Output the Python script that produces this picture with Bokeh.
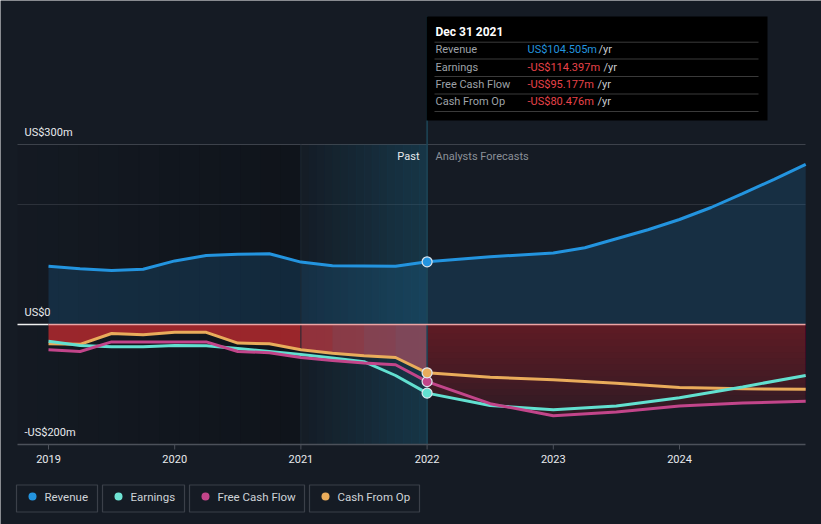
import numpy as np
from bokeh.plotting import figure
from bokeh.models import Range1d
from bokeh.core.properties import value
from bokeh.embed import file_html
from bokeh.resources import INLINE

# ---------------- data (US$ m) ----------------
REV_DATES = [2019.0, 2019.25, 2019.5, 2019.75, 2020.0, 2020.25, 2020.5, 2020.75,
             2021.0, 2021.25, 2021.5, 2021.75, 2022.0,
             2022.5, 2023.0, 2023.25, 2023.5, 2023.75, 2024.0, 2024.25, 2024.5, 2024.75, 2025.0]
REVENUE = [97, 93, 90, 92, 106, 115, 117, 118,
           104, 98, 97.5, 97, 104.505,
           113, 119, 128, 143, 158, 175, 195, 218, 242, 267]

NEG_DATES = [2019.0, 2019.25, 2019.5, 2019.75, 2020.0, 2020.25, 2020.5, 2020.75,
             2021.0, 2021.25, 2021.5, 2021.75, 2022.0,
             2022.5, 2023.0, 2023.5, 2024.0, 2024.5, 2025.0]
EARNINGS = [-28, -35, -37, -37, -35, -35.5, -40, -45,
            -50, -56, -62, -85, -114.397,
            -135, -142, -136, -122, -104, -85]
FREE_CASH_FLOW = [-42, -45, -29, -29, -29, -29, -45, -47,
                  -55, -60, -64, -67, -95.177,
                  -132, -152, -146, -136, -131, -128]
CASH_FROM_OP = [-32, -33, -15, -17, -13, -13, -31, -32,
                -42, -48, -52, -55, -80.476,
                -88, -92, -98, -105, -107, -108]

X_TICKS = [2019, 2020, 2021, 2022, 2023, 2024]
X_TICK_LABELS = ["2019", "2020", "2021", "2022", "2023", "2024"]
Y_TICKS = [300, 0, -200]
Y_TICK_LABELS = ["US$300m", "US$0", "-US$200m"]
GRID_VALUES = [300, 200]

NOW = 2022.0
PAST_START = 2021.0

TIP_TITLE = "Dec 31 2021"
TIP_LABELS = ["Revenue", "Earnings", "Free Cash Flow", "Cash From Op"]
TIP_VALUES = ["US$104.505m", "-US$114.397m", "-US$95.177m", "-US$80.476m"]

LEGEND_NAMES = ["Revenue", "Earnings", "Free Cash Flow", "Cash From Op"]

# ---------------- style ----------------
BG = "#151b24"
C_REV = "#2394df"
C_EARN = "#62e0d0"
C_FCF = "#c2458a"
C_CFO = "#e9ac5b"
C_RED = "#b42a30"
FONT = "Roboto"

W, H = 821, 524
PXY = 126.2          # px per year
PXM = 0.6            # px per US$m


def X(px):
    return 2019 + (px - 48) / PXY


def Y(py):
    return (324 - py) / PXM


p = figure(width=W, height=H, x_range=Range1d(X(0), X(W)), y_range=Range1d(Y(H), Y(0)),
           toolbar_location=None, output_backend="svg", min_border=0,
           x_axis_type=None, y_axis_type=None,
           background_fill_color=BG, border_fill_color=BG, outline_line_color=None)

x_left, x_right = X(17), X(805)
y_top, y_bot = 300, -200

# ---- past shading (dark) ----
n = 14
edges = np.linspace(x_left, PAST_START, n + 1)
for i in range(n):
    p.quad(left=edges[i], right=edges[i + 1] + 0.002, top=y_top, bottom=y_bot,
           fill_color="#000000", fill_alpha=0.04 + 0.2 * i / (n - 1), line_color=None)

# ---- grid ----
p.segment(x0=[x_left] * len(GRID_VALUES), x1=[x_right] * len(GRID_VALUES),
          y0=GRID_VALUES, y1=GRID_VALUES, line_color=["#3d424b", "#2c313a"], line_width=1)

rev_x = np.array(REV_DATES)
rev_y = np.array(REVENUE)
neg_x = np.array(NEG_DATES)
env = np.minimum(np.minimum(EARNINGS, FREE_CASH_FLOW), CASH_FROM_OP)
top_line = np.maximum(np.maximum(EARNINGS, FREE_CASH_FLOW), CASH_FROM_OP)

# ---- revenue area ----
p.varea(x=rev_x, y1=0, y2=rev_y, fill_color=C_REV, fill_alpha=0.17)

# ---- teal overlay between 2021 and now ----
n = 16
edges = np.linspace(PAST_START, NOW, n + 1)
for i in range(n):
    p.quad(left=edges[i], right=edges[i + 1] + 0.002, top=y_top, bottom=y_bot,
           fill_color="#1a6a8c", fill_alpha=0.03 + 0.30 * i / (n - 1), line_color=None)

# ---- negative red area: past (0 -> upper line) ----
past_mask = neg_x <= NOW
p.varea(x=neg_x[past_mask], y1=0, y2=top_line[past_mask], fill_color="#b3292e", fill_alpha=0.85)
# mauve tint increasing towards "now"
for i, d in enumerate(NEG_DATES):
    if PAST_START <= d < NOW:
        m = (neg_x >= d) & past_mask
        p.varea(x=neg_x[m], y1=0, y2=top_line[m], fill_color="#6c5d71", fill_alpha=0.22)

# ---- negative red gradient area: forecast (0 -> lower envelope) ----
fut_mask = neg_x >= NOW
for L in np.linspace(-5, -200, 20):
    p.varea(x=neg_x[fut_mask], y1=0, y2=np.maximum(env[fut_mask], L),
            fill_color=C_RED, fill_alpha=0.03)

p.segment(x0=[PAST_START], x1=[PAST_START], y0=[y_top], y1=[y_bot],
          line_color="#1f2a35", line_width=1)

# ---- vertical "now" line ----
p.segment(x0=[NOW], x1=[NOW], y0=[Y(16)], y1=[y_bot], line_color="#1d4658", line_width=1.5)

# ---- zero line ----
p.segment(x0=[x_left], x1=[REV_DATES[0]], y0=[0], y1=[0], line_color="#f0f0f0", line_width=1.5)
p.segment(x0=[REV_DATES[0]], x1=[x_right], y0=[0], y1=[0], line_color="#eba5a5", line_width=1.5)

# ---- bottom axis ----
p.segment(x0=[x_left], x1=[x_right], y0=[y_bot], y1=[y_bot], line_color="#4c515a", line_width=1.5)
p.segment(x0=X_TICKS, x1=X_TICKS, y0=[y_bot] * len(X_TICKS), y1=[y_bot - 5 / PXM] * len(X_TICKS),
          line_color="#4c515a", line_width=1)
p.text(x=X_TICKS, y=[Y(458)] * len(X_TICKS), text=X_TICK_LABELS, text_align="center",
       text_baseline="middle", text_font=value(FONT), text_font_size="11px", text_color="#e8eaed")

# ---- y labels ----
p.text(x=[X(24)] * len(Y_TICKS), y=[v + 12.5 / PXM for v in Y_TICKS], text=Y_TICK_LABELS,
       text_align="left", text_baseline="middle", text_font=value(FONT),
       text_font_size="11px", text_color="#e8eaed")

# ---- series lines ----
p.line(rev_x, rev_y, line_color=C_REV, line_width=3)
p.line(neg_x, CASH_FROM_OP, line_color=C_CFO, line_width=3)
p.line(neg_x, EARNINGS, line_color=C_EARN, line_width=3)
p.line(neg_x, FREE_CASH_FLOW, line_color=C_FCF, line_width=3)

now_i = REV_DATES.index(NOW)
now_j = NEG_DATES.index(NOW)
p.scatter(x=[NOW] * 4,
          y=[REVENUE[now_i], EARNINGS[now_j], FREE_CASH_FLOW[now_j], CASH_FROM_OP[now_j]],
          size=10, fill_color=[C_REV, C_EARN, C_FCF, C_CFO],
          line_color="#dfe6ee", line_width=1.2)

# ---- Past / Forecast labels ----
p.text(x=[X(419)], y=[Y(156)], text=["Past"], text_align="right", text_baseline="middle",
       text_font=value(FONT), text_font_size="11px", text_color="#e8eaed")
p.text(x=[X(435)], y=[Y(156)], text=["Analysts Forecasts"], text_align="left",
       text_baseline="middle", text_font=value(FONT), text_font_size="11px", text_color="#8b9098")

# ---- tooltip ----
p.quad(left=X(426), right=X(767), top=Y(16), bottom=Y(120), fill_color="#000000",
       fill_alpha=1.0, line_color=None)
p.text(x=[X(435)], y=[Y(31)], text=[TIP_TITLE], text_align="left", text_baseline="middle",
       text_font=value(FONT), text_font_size="12px", text_font_style="bold", text_color="#ffffff")
sep_py = [41.7, 58.5, 76.0, 93.5, 111.0]
p.segment(x0=[X(434)] * 5, x1=[X(758)] * 5, y0=[Y(s) for s in sep_py], y1=[Y(s) for s in sep_py],
          line_color="#3a3a3a", line_width=1)
row_py = [49, 66.5, 84, 101]
p.text(x=[X(435)] * 4, y=[Y(r) for r in row_py], text=TIP_LABELS, text_align="left",
       text_baseline="middle", text_font=value(FONT), text_font_size="11px", text_color="#9ea2a8")
p.text(x=[X(527)] * 4, y=[Y(r) for r in row_py], text=TIP_VALUES, text_align="left",
       text_baseline="middle", text_font=value(FONT), text_font_size="11px",
       text_color=[C_REV, "#e8434a", "#e8434a", "#e8434a"])
yr_px = [598, 603, 597, 597]
p.text(x=[X(v) for v in yr_px], y=[Y(r) for r in row_py], text=["/yr"] * 4, text_align="left",
       text_baseline="middle", text_font=value(FONT), text_font_size="11px", text_color="#c8cbd0")

# ---- legend ----
boxes = [(16, 97), (102, 184), (189, 304), (309, 419)]
p.quad(left=[X(a) for a, b in boxes], right=[X(b) for a, b in boxes],
       top=[Y(484.5)] * 4, bottom=[Y(511.5)] * 4, fill_color=BG, fill_alpha=1.0,
       line_color="#3b4049", line_width=1.2)
p.scatter(x=[X(a + 16) for a, b in boxes], y=[Y(496)] * 4, size=8, line_color=None,
          fill_color=[C_REV, "#6fe3d3", C_FCF, C_CFO])
p.text(x=[X(a + 28) for a, b in boxes], y=[Y(496)] * 4, text=LEGEND_NAMES, text_align="left",
       text_baseline="middle", text_font=value(FONT), text_font_size="11.5px", text_color="#cfd3d8")

open("out.html", "w").write(file_html(p, INLINE))
